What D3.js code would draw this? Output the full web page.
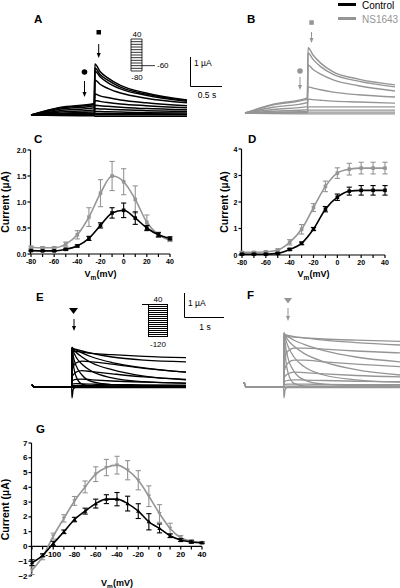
<!DOCTYPE html>
<html><head><meta charset="utf-8">
<script src="https://cdn.jsdelivr.net/npm/d3@7"></script>
<style>
body{margin:0;background:#fff}
svg{display:block}
text{font-family:"Liberation Sans",Arial,sans-serif;fill:#000}
</style>
</head><body>
<svg id="fig" width="400" height="588"></svg>
<script>
// ---------------- DATA ----------------
const seriesNames = ["Control", "NS1643"];
const colCtl = "#000000", colNS = "#959595";

// Panel C/D I-V (activation protocol)
const vAct = [-80,-70,-60,-50,-40,-30,-20,-10,0,10,20,30,40];
const cCtl    = [0.065,0.06,0.06,0.09,0.155,0.30,0.55,0.79,0.84,0.69,0.50,0.37,0.30];
const cCtlErr = [0.01,0.01,0.01,0.02,0.02,0.04,0.05,0.10,0.14,0.12,0.05,0.04,0.03];
const cNS     = [0.13,0.12,0.12,0.19,0.37,0.71,1.17,1.50,1.39,1.05,0.61,0.37,0.27];
const cNSErr  = [0.02,0.02,0.02,0.04,0.08,0.18,0.26,0.28,0.25,0.26,0.14,0.05,0.03];
const dCtl    = [0.03,0.03,0.03,0.06,0.21,0.44,0.98,1.73,2.18,2.41,2.44,2.44,2.44];
const dCtlErr = [0.02,0.02,0.02,0.03,0.04,0.05,0.06,0.10,0.12,0.15,0.18,0.18,0.18];
const dNS     = [0.10,0.10,0.12,0.19,0.48,0.97,1.79,2.59,3.09,3.24,3.28,3.28,3.28];
const dNSErr  = [0.03,0.03,0.03,0.04,0.10,0.18,0.15,0.20,0.20,0.22,0.22,0.22,0.22];

// Panel G I-V (tail protocol)
const vTail = [-120,-110,-100,-90,-80,-70,-60,-50,-40,-30,-20,-10,0,10,20,30,40];
const gCtl    = [-1.1,-0.6,0.2,0.99,1.82,2.39,2.9,3.2,3.2,2.9,2.39,1.67,1.22,0.72,0.43,0.3,0.25];
const gCtlErr = [0.2,0.1,0.15,0.12,0.15,0.2,0.3,0.3,0.45,0.5,0.5,0.55,0.3,0.12,0.1,0.08,0.05];
const gNS     = [-1.6,-0.7,0.7,1.9,3.08,4.03,4.89,5.34,5.5,5.16,4.48,3.4,2.23,1.22,0.59,0.36,0.25];
const gNSErr  = [0.3,0.2,0.2,0.25,0.3,0.4,0.5,0.55,0.6,0.65,0.65,0.7,0.6,0.35,0.15,0.1,0.08];

// Axis ticks
const cYTicks = [0,0.5,1.0,1.5,2.0];
const dYTicks = [0,1,2,3,4];
const gYTicks = [-2,-1,0,1,2,3,4,5,6,7];
const actXTicks = [-80,-60,-40,-20,0,20,40];
const tailXTicks = [-100,-80,-60,-40,-20,0,20,40];

// Current traces, panel A (control) and B (NS1643): time (s) and current (uA)
const tA = [0, 0.45, 0.99, 1.0, 1.08, 1.2, 1.4, 1.8, 2.44];
const tracesA = [
 [0, 0.26, 0.40, 1.76, 1.50, 1.28, 1.02, 0.76, 0.52],
 [0, 0.24, 0.37, 1.62, 1.40, 1.20, 0.96, 0.72, 0.50],
 [0, 0.20, 0.32, 1.52, 1.32, 1.12, 0.90, 0.68, 0.47],
 [0, 0.15, 0.25, 1.21, 1.06, 0.92, 0.76, 0.58, 0.42],
 [0, 0.10, 0.17, 0.72, 0.66, 0.60, 0.52, 0.42, 0.32],
 [0, 0.06, 0.11, 0.50, 0.47, 0.43, 0.38, 0.32, 0.25],
 [0, 0.04, 0.07, 0.34, 0.32, 0.30, 0.27, 0.22, 0.18],
 [0, 0.02, 0.04, 0.22, 0.21, 0.20, 0.18, 0.15, 0.12],
 [0, 0.01, 0.02, 0.12, 0.12, 0.11, 0.10, 0.08, 0.07],
 [0, 0.00, 0.01, 0.05, 0.05, 0.05, 0.04, 0.04, 0.03],
 [0, 0.00, 0.00, 0.01, 0.01, 0.01, 0.01, 0.01, 0.01],
 [0, -0.02, -0.03, -0.04, -0.04, -0.04, -0.04, -0.04, -0.04]
];
const tB = [0, 0.45, 0.99, 1.0, 1.08, 1.2, 1.4, 1.8, 2.38];
const tracesB = [
 [0, 0.30, 0.52, 2.25, 2.00, 1.72, 1.42, 1.17, 0.97],
 [0, 0.28, 0.48, 2.07, 1.85, 1.60, 1.33, 1.10, 0.90],
 [0, 0.20, 0.36, 1.66, 1.50, 1.34, 1.14, 0.94, 0.76],
 [0, 0.12, 0.22, 0.90, 0.86, 0.80, 0.72, 0.63, 0.55],
 [0, 0.06, 0.11, 0.48, 0.46, 0.44, 0.41, 0.38, 0.34],
 [0, 0.03, 0.05, 0.21, 0.21, 0.21, 0.21, 0.21, 0.21],
 [0, 0.01, 0.02, 0.10, 0.10, 0.10, 0.10, 0.10, 0.10],
 [0, 0.00, 0.01, 0.03, 0.03, 0.03, 0.03, 0.03, 0.03],
 [0, -0.02, -0.03, -0.03, -0.03, -0.03, -0.03, -0.03, -0.03]
];

// Current traces, panel E (control) and F (NS1643)
const tE = [0, 0.06, 0.99, 1.0, 1.03, 1.1, 1.25, 1.5, 2.0, 2.8, 3.85];
const tF = [0, 0.06, 0.99, 1.0, 1.03, 1.1, 1.25, 1.5, 2.0, 2.8, 3.9];
const preE = [0.1, 0, 0];
const preF = [0.2, 0, 0];
const tracesE = [
 [-0.45, -0.1, 0, 0, 0, 0, 0, 0],
 [1.65, 1.0, 0.45, 0.12, 0.04, 0.02, 0, 0],
 [1.65, 1.3, 0.9, 0.5, 0.22, 0.1, 0.05, 0.05],
 [1.65, 1.5, 1.25, 0.95, 0.65, 0.38, 0.22, 0.15],
 [1.65, 1.58, 1.45, 1.25, 1.0, 0.72, 0.45, 0.3],
 [1.65, 1.6, 1.55, 1.42, 1.25, 1.02, 0.8, 0.62],
 [1.62, 1.6, 1.57, 1.5, 1.4, 1.25, 1.12, 1.05],
 [1.5, 1.5, 1.48, 1.45, 1.4, 1.35, 1.28, 1.22],
 [0.7, 0.85, 1.0, 1.08, 1.05, 0.95, 0.78, 0.62],
 [0.4, 0.5, 0.62, 0.68, 0.64, 0.55, 0.42, 0.32],
 [0.25, 0.28, 0.32, 0.33, 0.3, 0.25, 0.2, 0.16],
 [0.12, 0.13, 0.14, 0.13, 0.12, 0.1, 0.09, 0.08],
 [0.06, 0.06, 0.06, 0.06, 0.06, 0.05, 0.05, 0.05],
 [0.02, 0.02, 0.02, 0.02, 0.02, 0.02, 0.02, 0.02],
 [-0.03, -0.03, -0.03, -0.03, -0.03, -0.03, -0.03, -0.03]
];
const tracesF = [
 [-0.45, -0.1, 0, 0, 0, 0, 0, 0],
 [2.25, 1.4, 0.6, 0.15, 0.05, 0.02, 0, 0],
 [2.25, 1.8, 1.2, 0.65, 0.3, 0.12, 0.06, 0.05],
 [2.25, 2.05, 1.7, 1.25, 0.85, 0.5, 0.3, 0.2],
 [2.25, 2.15, 1.95, 1.7, 1.4, 1.05, 0.72, 0.5],
 [2.22, 2.18, 2.1, 1.95, 1.78, 1.52, 1.25, 1.05],
 [2.2, 2.18, 2.15, 2.1, 2.05, 1.95, 1.85, 1.75],
 [2.1, 2.1, 2.1, 2.08, 2.05, 2.0, 1.95, 1.9],
 [1.0, 1.25, 1.5, 1.62, 1.62, 1.58, 1.5, 1.42],
 [0.6, 0.8, 1.0, 1.12, 1.12, 1.05, 0.95, 0.85],
 [0.35, 0.45, 0.55, 0.62, 0.6, 0.55, 0.48, 0.42],
 [0.2, 0.24, 0.28, 0.3, 0.29, 0.27, 0.24, 0.22],
 [0.1, 0.11, 0.12, 0.12, 0.12, 0.11, 0.1, 0.1],
 [0.04, 0.04, 0.04, 0.04, 0.04, 0.04, 0.04, 0.04],
 [-0.03, -0.03, -0.03, -0.03, -0.03, -0.03, -0.03, -0.03]
];

// Voltage protocols (mV)
const stepsA = [40,30,20,10,0,-10,-20,-30,-40,-50,-60,-70,-80];
const tailA = -60;
const stepsE = [40,30,20,10,0,-10,-20,-30,-40,-50,-60,-70,-80,-90,-100,-110,-120];

// ---------------- DRAWING ----------------
const svg = d3.select("#fig");

function label(x, y, txt, opt = {}) {
  const t = svg.append("text").attr("x", x).attr("y", y)
    .attr("font-size", opt.size || 9)
    .attr("font-weight", opt.bold ? "bold" : "normal")
    .attr("text-anchor", opt.anchor || "start")
    .style("fill", opt.color || "#000");
  t.text(txt);
  return t;
}

function arrow(x, y1, y2, color) {
  svg.append("line").attr("x1", x).attr("x2", x).attr("y1", y1).attr("y2", y2 - 3)
    .attr("stroke", color).attr("stroke-width", 1);
  svg.append("path").attr("d", `M${x-2},${y2-5}L${x+2},${y2-5}L${x},${y2}Z`).attr("fill", color);
}

function traces(tPts, data, xs, ys, color, sw) {
  const line = d3.line().x((d, i) => xs(tPts[i])).y(d => ys(d)).curve(d3.curveMonotoneX);
  const g = svg.append("g");
  data.forEach(tr => g.append("path").attr("d", line(tr)).attr("fill", "none")
    .attr("stroke", color).attr("stroke-width", sw).attr("stroke-linejoin", "round"));
}

// ---- Legend
svg.append("line").attr("x1", 338).attr("x2", 356).attr("y1", 4.5).attr("y2", 4.5).attr("stroke", colCtl).attr("stroke-width", 3);
label(362, 8.5, seriesNames[0], {size: 10});
svg.append("line").attr("x1", 338).attr("x2", 356).attr("y1", 18.5).attr("y2", 18.5).attr("stroke", colNS).attr("stroke-width", 3);
label(362, 22.5, seriesNames[1], {size: 10, color: colNS});

// ---- Panel letters
[["A",34,23],["B",247,23],["C",34,143],["D",248,143],["E",36,301],["F",247,299],["G",36,433]]
  .forEach(([l, x, y]) => label(x, y, l, {size: 11.5, bold: true}));

// ---- Panel A traces
const xA = d3.scaleLinear().domain([0, 2.44]).range([31, 187]);
const yA = d3.scaleLinear().domain([0, 1]).range([115, 86]);
traces(tA, tracesA, xA, yA, "#000", 1.5);
svg.append("rect").attr("x", 96.5).attr("y", 30).attr("width", 4.5).attr("height", 4.5).attr("fill", "#000");
arrow(98.7, 44, 58, "#000");
svg.append("circle").attr("cx", 84.5).attr("cy", 72).attr("r", 2.8).attr("fill", "#000");
arrow(84.5, 81, 97, "#000");
// protocol inset A
const pA = d3.scaleLinear().domain([-80, 40]).range([71, 39]);
const gpA = svg.append("g").attr("stroke", "#000").attr("stroke-width", 0.8).attr("fill", "none");
stepsA.forEach(v => gpA.append("line").attr("x1", 131).attr("x2", 142).attr("y1", pA(v)).attr("y2", pA(v)));
gpA.append("line").attr("x1", 131).attr("x2", 131).attr("y1", pA(40)).attr("y2", pA(-80));
gpA.append("line").attr("x1", 142).attr("x2", 142).attr("y1", pA(40)).attr("y2", pA(-80));
gpA.append("line").attr("x1", 142).attr("x2", 155).attr("y1", pA(tailA)).attr("y2", pA(tailA));
label(137, 37, "40", {size: 8, anchor: "middle"});
label(157, 68, "-60", {size: 8});
label(137, 80, "-80", {size: 8, anchor: "middle"});
// scale bar A
svg.append("path").attr("d", "M190.5,57V86.5H222").attr("fill", "none").attr("stroke", "#000").attr("stroke-width", 1);
label(194, 66, "1 µA", {size: 8.5});
label(207, 98, "0.5 s", {size: 8.5, anchor: "middle"});

// ---- Panel B traces
const xB = d3.scaleLinear().domain([0, 2.38]).range([245, 395]);
const yB = d3.scaleLinear().domain([0, 1]).range([113, 84]);
traces(tB, tracesB, xB, yB, colNS, 1.4);
svg.append("rect").attr("x", 309.3).attr("y", 20.3).attr("width", 4.5).attr("height", 4.5).attr("fill", colNS);
arrow(311.5, 32, 43, colNS);
svg.append("circle").attr("cx", 300).attr("cy", 71).attr("r", 2.8).attr("fill", colNS);
arrow(300, 77, 90, colNS);

// ---- Panel E traces
const xE = d3.scaleLinear().domain([0, 3.85]).range([32, 186]);
const yE = d3.scaleLinear().domain([0, 1]).range([387, 363]);
traces(tE, tracesE.map(tr => preE.concat(tr)), xE, yE, "#000", 1.3);
svg.append("path").attr("d", "M69,308L78,308L73.5,314Z").attr("fill", "#000");
arrow(74, 319, 331, "#000");
// protocol inset E
const pE = d3.scaleLinear().domain([-120, 40]).range([336, 304]);
const gpE = svg.append("g").attr("stroke", "#000").attr("stroke-width", 1).attr("fill", "none").attr("shape-rendering", "crispEdges");
stepsE.forEach(v => gpE.append("line").attr("x1", 148).attr("x2", 168).attr("y1", pE(v) + 0.5).attr("y2", pE(v) + 0.5));
gpE.append("line").attr("x1", 148.5).attr("x2", 148.5).attr("y1", pE(40)).attr("y2", pE(-120) + 1);
gpE.append("line").attr("x1", 167.5).attr("x2", 167.5).attr("y1", pE(40)).attr("y2", pE(-120) + 1);
gpE.append("line").attr("x1", 142).attr("x2", 148).attr("y1", pE(40) + 0.5).attr("y2", pE(40) + 0.5);
label(158, 302, "40", {size: 8, anchor: "middle"});
label(158, 347, "-120", {size: 8, anchor: "middle"});
// scale bar E
svg.append("path").attr("d", "M184.5,293V317.5H224").attr("fill", "none").attr("stroke", "#000").attr("stroke-width", 1);
label(188, 306, "1 µA", {size: 8.5});
label(205, 330, "1 s", {size: 8.5, anchor: "middle"});

// ---- Panel F traces
const xF = d3.scaleLinear().domain([0, 3.9]).range([244, 400]);
const yF = d3.scaleLinear().domain([0, 1]).range([387, 363]);
traces(tF, tracesF.map(tr => preF.concat(tr)), xF, yF, colNS, 1.3);
svg.append("path").attr("d", "M284,298L292,298L288,303.5Z").attr("fill", colNS);
arrow(288, 308, 321, colNS);

// ---- I-V panels
function ivPanel(o) {
  const x = d3.scaleLinear().domain(o.xDom).range(o.xRange);
  const y = d3.scaleLinear().domain(o.yDom).range(o.yRange);
  const g = svg.append("g");
  const axisY = o.axisYAt !== undefined ? y(o.axisYAt) : o.yRange[0];
  g.append("line").attr("x1", o.xRange[0] - 0.5).attr("x2", o.xRange[0] - 0.5)
    .attr("y1", o.yRange[0]).attr("y2", o.yRange[1]).attr("stroke", "#000").attr("stroke-width", 1.2);
  o.yTicks.forEach(v => {
    g.append("line").attr("x1", o.xRange[0] - 3.5).attr("x2", o.xRange[0] - 0.5)
      .attr("y1", y(v)).attr("y2", y(v)).attr("stroke", "#000").attr("stroke-width", 1.2);
    g.append("text").attr("x", o.xRange[0] - 4.5).attr("y", y(v) + 2.5)
      .attr("text-anchor", "end").attr("font-size", o.tickSize).attr("font-weight", "bold").text(o.yFmt(v));
  });
  g.append("line").attr("x1", o.xRange[0] - 0.5).attr("x2", o.xRange[1])
    .attr("y1", axisY).attr("y2", axisY).attr("stroke", "#000").attr("stroke-width", 1.2);
  d3.range(o.xDom[0], o.xDom[1] + 1, 10).forEach(v => {
    g.append("line").attr("x1", x(v)).attr("x2", x(v)).attr("y1", axisY).attr("y2", axisY + 3)
      .attr("stroke", "#000").attr("stroke-width", 1.2);
  });
  o.xTicks.forEach(v => {
    g.append("text").attr("x", x(v)).attr("y", axisY + 3 + o.tickSize)
      .attr("text-anchor", "middle").attr("font-size", o.tickSize).attr("font-weight", "bold").text(v);
  });
  g.append("text").attr("transform", `translate(${o.yTitleX},${(o.yRange[0] + o.yRange[1]) / 2}) rotate(-90)`)
    .attr("text-anchor", "middle").attr("font-size", 10.5).attr("font-weight", "bold").text("Current (µA)");
  const xt = g.append("text").attr("x", (o.xRange[0] + o.xRange[1]) / 2).attr("y", o.xTitleY)
    .attr("text-anchor", "middle").attr("font-size", 9).attr("font-weight", "bold");
  xt.append("tspan").text("V");
  xt.append("tspan").attr("font-size", 6.5).attr("dy", 2.5).text("m");
  xt.append("tspan").attr("dy", -2.5).text("(mV)");
  const line = d3.line().x(d => x(d[0])).y(d => y(d[1])).curve(d3.curveMonotoneX);
  o.series.forEach(s => {
    const pts = o.v.map((v, i) => [v, s.vals[i], s.err[i]]);
    const sg = g.append("g");
    pts.forEach(p => {
      const xx = x(p[0]), yt = y(p[1] + p[2]), yb = y(p[1] - p[2]);
      sg.append("line").attr("x1", xx).attr("x2", xx).attr("y1", yt).attr("y2", yb).attr("stroke", s.color).attr("stroke-width", 1.1);
      sg.append("line").attr("x1", xx - 2.6).attr("x2", xx + 2.6).attr("y1", yt).attr("y2", yt).attr("stroke", s.color).attr("stroke-width", 1.1);
      sg.append("line").attr("x1", xx - 2.6).attr("x2", xx + 2.6).attr("y1", yb).attr("y2", yb).attr("stroke", s.color).attr("stroke-width", 1.1);
    });
    sg.append("path").attr("d", line(pts)).attr("fill", "none").attr("stroke", s.color).attr("stroke-width", 1.6);
    pts.forEach(p => {
      const xx = x(p[0]), yy = y(p[1]);
      if (s.marker === "square") {
        sg.append("rect").attr("x", xx - 1.8).attr("y", yy - 1.8).attr("width", 3.6).attr("height", 3.6).attr("fill", s.color);
      } else if (s.marker === "up") {
        sg.append("path").attr("d", `M${xx-2.2},${yy+1.6}L${xx+2.2},${yy+1.6}L${xx},${yy-2.2}Z`).attr("fill", s.color);
      } else {
        sg.append("path").attr("d", `M${xx-2.2},${yy-1.6}L${xx+2.2},${yy-1.6}L${xx},${yy+2.2}Z`).attr("fill", s.color);
      }
    });
  });
}

ivPanel({xDom: [-80, 40], xRange: [31, 170], yDom: [0, 2], yRange: [254, 150],
  yTicks: cYTicks, yFmt: d3.format(".1f"), xTicks: actXTicks, tickSize: 7,
  yTitleX: 9, xTitleY: 277, v: vAct,
  series: [{vals: cNS, err: cNSErr, color: colNS, marker: "square"},
           {vals: cCtl, err: cCtlErr, color: colCtl, marker: "square"}]});

ivPanel({xDom: [-80, 40], xRange: [242, 385], yDom: [0, 4], yRange: [255, 149],
  yTicks: dYTicks, yFmt: d3.format("d"), xTicks: actXTicks, tickSize: 7,
  yTitleX: 228, xTitleY: 277, v: vAct,
  series: [{vals: dNS, err: dNSErr, color: colNS, marker: "square"},
           {vals: dCtl, err: dCtlErr, color: colCtl, marker: "square"}]});

ivPanel({xDom: [-120, 40], xRange: [32, 202], yDom: [-2, 7], yRange: [576, 443], axisYAt: 0,
  yTicks: gYTicks, yFmt: d3.format("d"), xTicks: tailXTicks, tickSize: 8,
  yTitleX: 9, xTitleY: 586, v: vTail,
  series: [{vals: gNS, err: gNSErr, color: colNS, marker: "down"},
           {vals: gCtl, err: gCtlErr, color: colCtl, marker: "up"}]});
</script>
</body></html>
